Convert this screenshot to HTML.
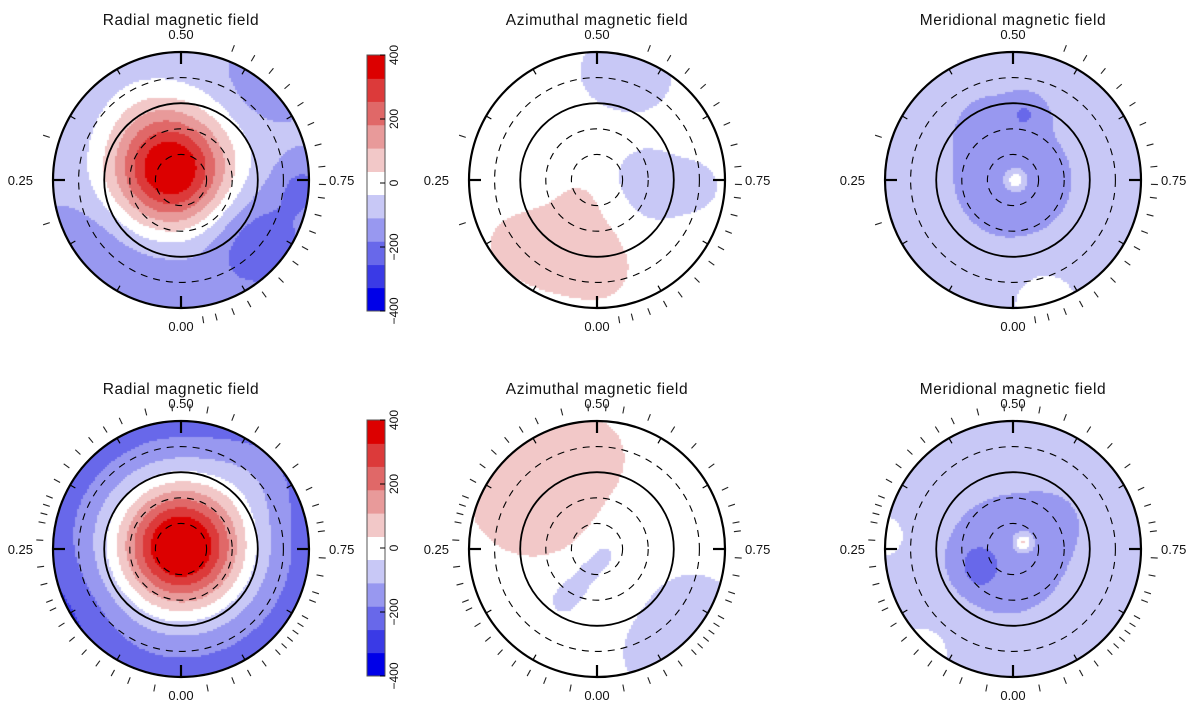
<!DOCTYPE html>
<html><head><meta charset="utf-8"><style>
html,body{margin:0;padding:0;background:#fff;}
#wrap{position:relative;width:1200px;height:707px;overflow:hidden;}
canvas,svg{position:absolute;left:0;top:0;}
text{font-family:"Liberation Sans",sans-serif;fill:#111;}
</style></head><body>
<div id="wrap">
<canvas id="cv" width="1200" height="707"></canvas>
<svg id="sv" width="1200" height="707"></svg>
</div>
<script>
// ---- data ----
const titles = ["Radial magnetic field","Azimuthal magnetic field","Meridional magnetic field"];
const colorLevels = [-400,-327,-255,-182,-109,-36,36,109,182,255,327,400];
const colorBand = ["#0000e8","#3a3ae6","#6868ea","#9898f0","#c8c8f6","#ffffff","#f2c8c8","#e89a9a","#e06868","#dc3a3a","#dc0000"];
const cbarTicks = [400,200,0,-200,-400];
const phaseLabels = ["0.00","0.25","0.50","0.75"];
// field models: base value + gaussian blobs [u, v, amplitude, sigma] (u,v in units of outer radius)
const baseTL = -100, blobsTL = [[-0.08,-0.08,520,0.32],[0.6,0.5,-140,0.28],[0.65,-0.75,-60,0.2],[-0.2,0.8,-60,0.3],[-0.7,0.5,-60,0.25],[0.95,0.05,-90,0.15],[-0.3,-0.55,40,0.25]];
const baseTM = 0, blobsTM = [[-0.3,0.55,60,0.3],[-0.05,0.4,35,0.2],[0.05,0.7,45,0.18],[-0.12,0.15,30,0.12],[-0.7,0.5,30,0.2],[0.4,0.05,-60,0.28],[0.8,0.05,-40,0.15],[0.1,-0.85,-60,0.22],[0.4,-0.8,-45,0.2]];
const baseTR = -70, blobsTR = [[0.0,0.0,-65,0.45],[0.1,-0.52,-80,0.1],[0.02,0.0,160,0.05],[0.25,0.95,90,0.18],[-0.2,-0.45,-30,0.2]];
const baseBL = -140, ringBL = -90, blobsBL = [[0.0,-0.02,600,0.34],[0.6,-0.6,50,0.25],[-0.9,0.5,-40,0.3]];
const baseBM = 0, blobsBM = [[-0.5,-0.45,80,0.4],[-0.05,-0.75,55,0.2],[0.75,0.55,-80,0.28],[0.45,0.85,-60,0.2],[0.05,0.05,-70,0.07],[-0.06,0.17,-75,0.07],[-0.16,0.29,-75,0.07],[-0.26,0.4,-75,0.08]];
const baseBR = -70, blobsBR = [[-0.05,0.05,-80,0.38],[-0.28,0.1,-80,0.1],[-0.25,0.2,-60,0.08],[0.08,-0.05,190,0.05],[-1.0,-0.1,80,0.12],[-0.7,0.8,80,0.15],[0.35,-0.25,-25,0.2]];
const phasesTop = [0.20,0.30,0.56,0.585,0.61,0.635,0.66,0.685,0.71,0.735,0.755,0.77,0.79,0.81,0.83,0.85,0.875,0.90,0.92,0.94,0.96,0.975];
const phasesBot = [0.03,0.06,0.08,0.10,0.12,0.14,0.16,0.18,0.19,0.21,0.23,0.26,0.28,0.29,0.30,0.31,0.33,0.35,0.37,0.39,0.41,0.43,0.46,0.49,0.51,0.53,0.56,0.59,0.62,0.65,0.68,0.70,0.72,0.73,0.76,0.78,0.80,0.81,0.83,0.84,0.85,0.86,0.87,0.88,0.90,0.92,0.94,0.97];

const R = 128, colX = [181,597,1013], rowY = [180,549];
const panels = [
 {c:0,r:0,base:baseTL,blobs:blobsTL,ring:0,ph:phasesTop,cbar:true},
 {c:1,r:0,base:baseTM,blobs:blobsTM,ring:0,ph:phasesTop},
 {c:2,r:0,base:baseTR,blobs:blobsTR,ring:0,ph:phasesTop},
 {c:0,r:1,base:baseBL,blobs:blobsBL,ring:ringBL,ph:phasesBot,cbar:true},
 {c:1,r:1,base:baseBM,blobs:blobsBM,ring:0,ph:phasesBot},
 {c:2,r:1,base:baseBR,blobs:blobsBR,ring:0,ph:phasesBot}];

function field(p,u,v){let f=p.base+p.ring*(u*u+v*v);for(const b of p.blobs){const d=(u-b[0])**2+(v-b[1])**2;f+=b[2]*Math.exp(-d/(2*b[3]*b[3]));}return f;}
function colorOf(f){for(let i=0;i<colorBand.length;i++){if(f<colorLevels[i+1])return colorBand[i];}return colorBand[colorBand.length-1];}

const ctx=document.getElementById('cv').getContext('2d');
const sv=document.getElementById('sv'),NS='http://www.w3.org/2000/svg';
function mk(tag,attrs,parent){const e=document.createElementNS(NS,tag);for(const k in attrs)e.setAttribute(k,attrs[k]);(parent||sv).appendChild(e);return e;}

panels.forEach((p,pi)=>{
 const cx=colX[p.c],cy=rowY[p.r];
 const step=2;
 for(let y=-R;y<R;y+=step)for(let x=-R;x<R;x+=step){
   const u=(x+1)/R,v=(y+1)/R; if(u*u+v*v>1)continue;
   ctx.fillStyle=colorOf(field(p,u,v)); ctx.fillRect(cx+x,cy+y,step,step);
 }
 const g=mk('g',{});
 
 
 const t=mk('text',{x:cx,y:cy-R-27,'text-anchor':'middle','font-size':'15.5','letter-spacing':'0.6'},g);
 t.textContent=titles[p.c];
 
 
 [1,0.8,0.6,0.4,0.2].forEach((f,i)=>{
   const c=mk('circle',{cx,cy,r:R*f,fill:'none',stroke:'#000','stroke-width':i==0?2.2:(i==2?1.8:1.1)},g);
   if(i==1||i>=3)c.setAttribute('stroke-dasharray','7,6');
   
   
 });
 phaseLabels.forEach((lab,i)=>{
   const ph=i*0.25,a=2*Math.PI*ph,dx=-Math.sin(a),dy=Math.cos(a);
   const tk=mk('line',{x1:cx+dx*R,y1:cy+dy*R,x2:cx+dx*(R-12),y2:cy+dy*(R-12),stroke:'#000','stroke-width':2.2},g);
   
   
   let lx=cx+dx*(R+20),ly=cy+dy*(R+18)+5,anc='middle';
   if(i==1){lx=cx-R-20;anc='end';ly=cy+5;} if(i==3){lx=cx+R+20;anc='start';ly=cy+5;}
   const lt=mk('text',{x:lx,y:ly,'text-anchor':anc,'font-size':'13'},g);
   lt.textContent=lab;
   
   
 });
 for(let k=1;k<12;k++){if(k%3==0)continue;const a=2*Math.PI*k/12,dx=-Math.sin(a),dy=Math.cos(a);
   const mt=mk('line',{x1:cx+dx*R,y1:cy+dy*R,x2:cx+dx*(R-6),y2:cy+dy*(R-6),stroke:'#000','stroke-width':1.2},g);
   
   }
 p.ph.forEach(ph=>{const a=2*Math.PI*ph,dx=-Math.sin(a),dy=Math.cos(a);
   const o=mk('line',{x1:cx+dx*(R+10),y1:cy+dy*(R+10),x2:cx+dx*(R+17),y2:cy+dy*(R+17),stroke:'#222','stroke-width':1.1},g);
   
   });
 if(p.cbar){
   const bx=367,bw=18,by=p.r==0?55:420,bh=256;
   const cb=mk('g',{});
   
   
   const yOf=v=>by+(400-v)/800*bh;
   colorBand.forEach((col,i)=>{mk('rect',{x:bx,y:yOf(colorLevels[i+1]),width:bw,height:yOf(colorLevels[i])-yOf(colorLevels[i+1])+0.5,fill:col},cb);});
   mk('rect',{x:bx,y:by,width:bw,height:bh,fill:'none',stroke:'#555','stroke-width':1},cb);
   cbarTicks.forEach(v=>{const y=yOf(v);
     mk('line',{x1:bx+bw-5,y1:y,x2:bx+bw,y2:y,stroke:'#000'},cb);
     const tx=mk('text',{x:0,y:0,'text-anchor':'middle','font-size':'12',transform:`translate(${bx+bw+13},${y}) rotate(-90)`},cb);
     tx.textContent=v<0?'\u2212'+(-v):String(v);
     
     });
 }
});
</script>
</body></html>
